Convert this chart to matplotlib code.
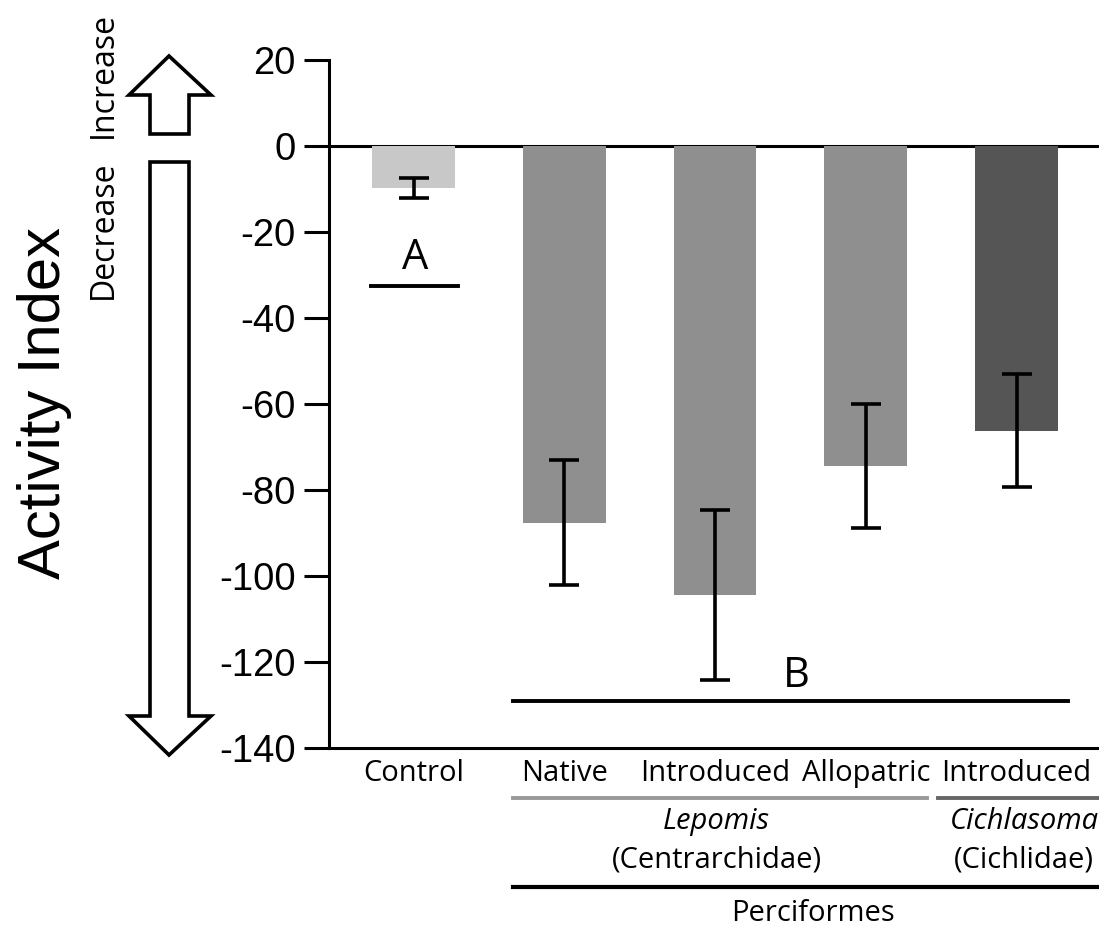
import matplotlib
matplotlib.use("Agg")
import matplotlib.pyplot as plt
from matplotlib.patches import Polygon

# data
groups = ["Control", "Native", "Introduced", "Allopatric", "Introduced"]
means = [-9.8, -87.6, -104.4, -74.4, -66.2]
errs = [2.3, 14.6, 19.7, 14.5, 13.1]
colors = ["#c8c8c8", "#8f8f8f", "#8f8f8f", "#8f8f8f", "#555555"]

W, H = 1099, 926
fig = plt.figure(figsize=(W / 100, H / 100), dpi=100)
ax = fig.add_axes([329 / W, 1 - 748 / H, 1 - 329 / W, (748 - 60) / H])

x = list(range(len(groups)))
ax.axhline(0, color="black", lw=2.2, zorder=1)
ax.bar(x, means, width=0.55, color=colors, zorder=2)
ax.errorbar(x, means, yerr=errs, fmt="none", ecolor="black", elinewidth=2.6,
            capsize=11, capthick=2.6, zorder=3)

ax.set_xlim(-0.5605, 4.547)
ax.set_ylim(-140, 20)
ax.set_yticks(range(-140, 21, 20))
ax.tick_params(axis="y", direction="out", length=18, width=2.2, pad=6, labelsize=27.5)
ax.set_yticklabels([str(v) for v in range(-140, 21, 20)], family="Liberation Sans")
ax.set_xticks(x)
ax.set_xticklabels(groups, family="Open Sans", fontsize=21)
ax.tick_params(axis="x", length=0, pad=8)
for s in ["top", "right"]:
    ax.spines[s].set_visible(False)
for s in ["left", "bottom"]:
    ax.spines[s].set_linewidth(2.2)

# significance groups
ax.plot([-0.28, 0.295], [-32.5, -32.5], color="black", lw=2.8, clip_on=False)
ax.text(0.01, -26, "A", ha="center", va="center", fontsize=30, family="Open Sans")
ax.plot([0.66, 4.34], [-129, -129], color="black", lw=2.8, clip_on=False)
ax.text(2.54, -123.2, "B", ha="center", va="center", fontsize=30, family="Open Sans")

# taxonomy brackets under the axis
ax.plot([0.66, 3.407], [-151.6, -151.6], color="#999999", lw=2.8, clip_on=False)
ax.plot([3.48, 4.7], [-151.6, -151.6], color="#666666", lw=2.8, clip_on=False)
ax.plot([0.66, 4.7], [-172.3, -172.3], color="black", lw=3, clip_on=False)
tk = dict(ha="center", va="center", fontsize=21, family="Open Sans", clip_on=False)
ax.text(2.01, -157.2, "Lepomis", style="italic", **tk)
ax.text(2.01, -166, "(Centrarchidae)", **tk)
ax.text(4.05, -157.2, "Cichlasoma", style="italic", **tk)
ax.text(4.05, -166, "(Cichlidae)", **tk)
ax.text(2.65, -178.4, "Perciformes", **tk)

# y label and direction arrows
fig.text(45 / W, 1 - 403 / H, "Activity Index", rotation=90, ha="center", va="center",
         fontsize=43, family="Liberation Sans")
fig.text(103 / W, 1 - 75 / H, "Increase", rotation=90, ha="center", va="center",
         fontsize=23, family="Open Sans")
fig.text(103 / W, 1 - 230 / H, "Decrease", rotation=90, ha="center", va="center",
         fontsize=23, family="Open Sans")

def px(pts):
    return [(a / W, 1 - b / H) for a, b in pts]

up = [(150, 134), (150, 95), (129, 95), (169, 56), (211, 95), (189, 95), (189, 134)]
down = [(150, 162), (150, 716), (129, 716), (169, 755), (211, 716), (189, 716), (189, 162)]
for pts in (up, down):
    fig.add_artist(Polygon(px(pts), closed=True, transform=fig.transFigure,
                           facecolor="white", edgecolor="black", lw=2.6,
                           joinstyle="miter"))

fig.savefig("out.png", dpi=100)
